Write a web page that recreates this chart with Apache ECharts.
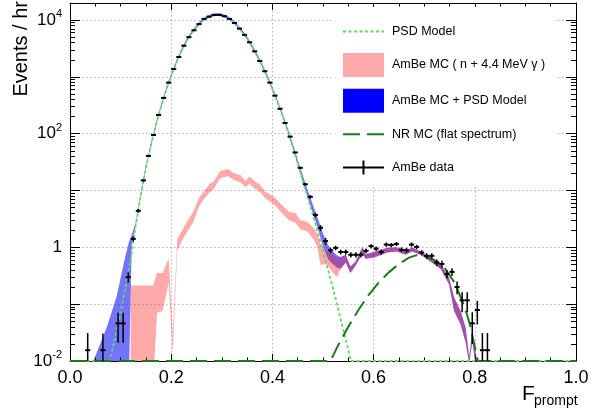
<!DOCTYPE html>
<html>
<head>
<meta charset="utf-8">
<script src="https://cdn.jsdelivr.net/npm/echarts@6/dist/echarts.min.js"></script>
<style>
html, body { margin: 0; padding: 0; background: #fff; }
#main { width: 591px; height: 413px; }
</style>
</head>
<body>
<div id="main"></div>
<script>
const FONT = '"Liberation Sans", Arial, Helvetica, sans-serif';

// AmBe data: bin centre, events / hr, error
const dataX = [0.035, 0.065, 0.095, 0.105, 0.115, 0.125, 0.135, 0.145, 0.155, 0.165,
  0.175, 0.185, 0.195, 0.205, 0.215, 0.225, 0.235, 0.245, 0.255, 0.265,
  0.275, 0.285, 0.295, 0.305, 0.315, 0.325, 0.335, 0.345, 0.355, 0.365,
  0.375, 0.385, 0.395, 0.405, 0.415, 0.425, 0.435, 0.445, 0.455, 0.465,
  0.475, 0.485, 0.495, 0.505, 0.515, 0.525, 0.535, 0.545, 0.555, 0.565,
  0.575, 0.585, 0.595, 0.605, 0.615, 0.625, 0.635, 0.645, 0.655, 0.665,
  0.675, 0.685, 0.695, 0.705, 0.715, 0.725, 0.735, 0.745, 0.755, 0.765,
  0.775, 0.785, 0.795, 0.805, 0.815, 0.825];
const dataY = [0.0155, 0.0155, 0.046, 0.046, 0.30, 1.41, 4.4, 15.1, 40.7, 95,
  214, 427, 794, 1380, 2240, 3550, 5010, 6610, 8510, 10500,
  11500, 12300, 12300, 11700, 10500, 8910, 7080, 5500, 4070, 2820,
  1910, 1260, 794, 468, 275, 155, 89, 46.8, 25.1, 12.9,
  7.76, 3.72, 2.21, 1.29, 0.89, 0.98, 0.83, 0.83, 0.74, 0.74,
  0.74, 0.87, 1.05, 0.95, 0.83, 1.12, 1.10, 1.15, 0.91, 0.89,
  1.12, 1.02, 0.81, 0.71, 0.71, 0.54, 0.51, 0.34, 0.37, 0.20,
  0.117, 0.117, 0.046, 0.079, 0.0155, 0.0155];
const dataErr = [0.0155, 0.015, 0.025, 0.025, 0.06, 0.14, 0.35, 0.7, 1.3, 2.2,
  3.5, 5, 7, 9, 12, 15, 18, 20, 23, 26,
  27, 28, 28, 27, 26, 24, 21, 19, 16, 13,
  11, 9, 7, 5.5, 4, 3, 2.2, 1.5, 1.1, 0.75,
  0.55, 0.36, 0.26, 0.18, 0.09, 0.09, 0.085, 0.085, 0.08, 0.08,
  0.08, 0.085, 0.09, 0.09, 0.085, 0.095, 0.095, 0.095, 0.09, 0.09,
  0.095, 0.09, 0.085, 0.08, 0.08, 0.07, 0.07, 0.055, 0.057, 0.05,
  0.045, 0.045, 0.026, 0.035, 0.0155, 0.0155];

// PSD model
const psdX = [0, 0.079, 0.09, 0.10, 0.11, 0.12, 0.13, 0.14, 0.15, 0.16,
  0.17, 0.18, 0.19, 0.20, 0.21, 0.22, 0.23, 0.24, 0.25, 0.26,
  0.27, 0.28, 0.29, 0.30, 0.31, 0.32, 0.33, 0.34, 0.35, 0.36,
  0.37, 0.38, 0.39, 0.40, 0.41, 0.42, 0.43, 0.44, 0.45, 0.46,
  0.47, 0.48, 0.49, 0.50, 0.51, 0.52, 0.53, 0.54, 0.55, 0.555, 1.0];
const psdY = [0.01, 0.01, 0.028, 0.071, 0.209, 0.63, 2.51, 8.3, 25.1, 63,
  145, 302, 589, 1050, 1780, 2820, 4270, 5890, 7590, 9550,
  10960, 12020, 12450, 12160, 11220, 9770, 7940, 6310, 4790, 3390,
  2340, 1550, 1000, 617, 363, 209, 115, 60, 30.2, 14.8,
  7.4, 3.7, 1.82, 0.85, 0.40, 0.186, 0.083, 0.036, 0.0158, 0.01, 0.01];

// NR MC (flat spectrum)
const nrX = [0, 0.515, 0.53, 0.55, 0.57, 0.59, 0.61, 0.63, 0.65, 0.67,
  0.685, 0.70, 0.72, 0.74, 0.76, 0.78, 0.79, 0.80, 0.806, 1.0];
const nrY = [0.01, 0.01, 0.019, 0.040, 0.079, 0.145, 0.24, 0.363, 0.51, 0.66,
  0.73, 0.71, 0.60, 0.44, 0.24, 0.089, 0.045, 0.018, 0.01, 0.01];

// AmBe MC band (upper / lower edge)
const mcX = [0.120, 0.164, 0.172, 0.183, 0.195, 0.203, 0.212, 0.225, 0.244, 0.254,
  0.264, 0.277, 0.284, 0.297, 0.313, 0.323, 0.337, 0.347, 0.355, 0.363,
  0.376, 0.386, 0.403, 0.416, 0.432, 0.446, 0.455, 0.469, 0.482, 0.489,
  0.495, 0.508, 0.520, 0.528, 0.535, 0.545, 0.554, 0.564, 0.578, 0.584,
  0.601, 0.627, 0.646, 0.663, 0.676, 0.693, 0.713, 0.733, 0.749, 0.759,
  0.772, 0.782, 0.789, 0.795, 0.802, 0.809];
const mcHi = [0.214, 0.214, 0.355, 0.355, 0.646, 0.028, 1.41, 2.29, 4.27, 7.24,
  9.55, 13.5, 14.5, 22.4, 24.0, 20.4, 18.6, 14.8, 17.8, 15.1,
  12.6, 9.55, 7.76, 5.89, 4.27, 3.98, 3.02, 2.82, 2.14, 1.78,
  1.12, 0.83, 0.78, 0.63, 0.68, 0.74, 0.46, 0.56, 1.02, 0.76,
  0.83, 0.98, 1.0, 0.85, 1.0, 0.85, 0.66, 0.50, 0.295, 0.132,
  0.076, 0.038, 0.0117, 0.032, 0.0126, 0.0079];
const mcLo = [0.0032, 0.0032, 0.071, 0.076, 0.24, 0.014, 0.89, 1.51, 2.82, 5.01,
  6.92, 9.55, 10.7, 16.6, 17.8, 15.5, 13.8, 11.5, 13.2, 11.2,
  9.33, 7.24, 5.75, 4.27, 3.02, 2.69, 2.09, 1.91, 1.35, 1.0,
  0.50, 0.50, 0.35, 0.30, 0.42, 0.54, 0.355, 0.47, 0.78, 0.63,
  0.66, 0.81, 0.85, 0.74, 0.85, 0.74, 0.56, 0.41, 0.224, 0.076,
  0.044, 0.021, 0.0089, 0.022, 0.0079, 0.005];

// AmBe MC + PSD model band (upper / lower edge)
const sumX = [0.040, 0.046, 0.056, 0.073, 0.092, 0.109, 0.116, 0.122, 0.13, 0.14,
  0.15, 0.16, 0.17, 0.18, 0.19, 0.20, 0.21, 0.22, 0.23, 0.24,
  0.25, 0.26, 0.27, 0.28, 0.29, 0.30, 0.31, 0.32, 0.33, 0.34,
  0.35, 0.36, 0.37, 0.38, 0.39, 0.40, 0.41, 0.42, 0.43, 0.44,
  0.45, 0.46, 0.47, 0.48, 0.49, 0.50, 0.51, 0.52, 0.528, 0.535,
  0.545, 0.554, 0.564, 0.578, 0.584, 0.601, 0.627, 0.646, 0.663, 0.676,
  0.693, 0.713, 0.733, 0.749, 0.759, 0.772, 0.782, 0.789, 0.795, 0.802, 0.809];
const sumHi = [0.0032, 0.010, 0.0166, 0.040, 0.135, 0.676, 1.20, 1.66, 2.75, 9.0,
  27, 68, 156, 325, 630, 1130, 1910, 3030, 4590, 6330,
  8160, 10270, 11780, 12920, 13380, 13070, 12060, 10500, 8540, 6780,
  5150, 3640, 2520, 1670, 1080, 665, 392, 228, 128, 68,
  35, 18.5, 10.0, 5.6, 3.2, 1.75, 1.10, 0.85, 0.72, 0.68,
  0.74, 0.46, 0.56, 1.02, 0.76, 0.83, 0.98, 1.0, 0.85, 1.0,
  0.85, 0.66, 0.50, 0.295, 0.132, 0.076, 0.038, 0.0117, 0.032, 0.0126, 0.0079];
const sumLo = [0.0032, 0.0032, 0.0032, 0.0032, 0.0032, 0.0032, 0.0032, 1.12, 2.40, 7.9,
  24, 60, 138, 288, 560, 1000, 1700, 2690, 4070, 5620,
  7240, 9110, 10460, 11470, 11880, 11600, 10710, 9320, 7580, 6020,
  4570, 3240, 2230, 1480, 950, 590, 346, 199, 110, 57,
  29, 14.5, 7.5, 4.0, 2.1, 1.05, 0.62, 0.50, 0.44, 0.42,
  0.54, 0.355, 0.47, 0.78, 0.63, 0.66, 0.81, 0.85, 0.74, 0.85,
  0.74, 0.56, 0.41, 0.224, 0.076, 0.044, 0.021, 0.0089, 0.022, 0.0079, 0.005];

const yMinorTicks = [];
for (let e = -2; e <= 4; e++) {
  for (let m = 2; m <= 9; m++) yMinorTicks.push(m * Math.pow(10, e));
}

const names = {
  psd: 'PSD Model',
  mc: 'AmBe MC ( n + 4.4 MeV \u03b3 )',
  sum: 'AmBe MC + PSD Model',
  nr: 'NR MC (flat spectrum)',
  data: 'AmBe data'
};

function zip(a, b, c) {
  return a.map((v, i) => (c ? [v, b[i], c[i]] : [v, b[i]]));
}

// one filled polygon per band, built from all points of the series
function bandRender(fill) {
  return function (params, api) {
    if (params.dataIndex !== 0) return null;
    const n = params.dataInsideLength;
    const top = [];
    const bot = [];
    for (let i = 0; i < n; i++) {
      const x = api.value(0, i);
      top.push(api.coord([x, api.value(1, i)]));
      bot.push(api.coord([x, api.value(2, i)]));
    }
    return {
      type: 'polygon',
      silent: true,
      shape: { points: top.concat(bot.reverse()) },
      style: { fill: fill }
    };
  };
}

function errRender(params, api) {
  const x = api.value(0);
  const y = api.value(1);
  const e = api.value(2);
  const l = api.coord([x - 0.005, y]);
  const r = api.coord([x + 0.005, y]);
  const t = api.coord([x, y + e]);
  const b = api.coord([x, Math.max(y - e, 0.001)]);
  return {
    type: 'group',
    children: [
      { type: 'line', shape: { x1: l[0], y1: l[1], x2: r[0], y2: r[1] },
        style: { stroke: '#000', lineWidth: 2 } },
      { type: 'line', shape: { x1: t[0], y1: t[1], x2: b[0], y2: b[1] },
        style: { stroke: '#000', lineWidth: 1.5 } }
    ]
  };
}

function yLabel(v) {
  const lg = Math.log10(v);
  const e = Math.round(lg);
  if (Math.abs(lg - e) > 1e-6 || e % 2 !== 0) return '';
  if (e === 0) return '1';
  return '10{sup|' + e + '}';
}

const yBase = { type: 'log', logBase: 10, min: 0.01, max: 20000 };
const tickLine = { color: '#000', width: 1 };
const noSymbol = { opacity: 0, borderWidth: 0 };

const chart = echarts.init(document.getElementById('main'));
chart.setOption({
  animation: false,
  backgroundColor: '#fff',
  textStyle: { fontFamily: FONT },
  grid: { left: 70, right: 15, top: 3, bottom: 52, outerBoundsMode: 'none' },
  xAxis: [
    {
      type: 'value', position: 'bottom', min: 0, max: 1, interval: 0.2,
      axisLine: { onZero: false, lineStyle: tickLine },
      axisTick: { inside: true, length: 7, lineStyle: tickLine },
      minorTick: { show: true, splitNumber: 4, length: 3.5, lineStyle: tickLine },
      axisLabel: {
        color: '#000', fontFamily: FONT, fontSize: 18, margin: 8,
        formatter: v => v.toFixed(1)
      },
      splitLine: { show: true, lineStyle: { color: '#b4b4b4', type: [1.5, 2.5] } }
    },
    {
      type: 'value', position: 'top', min: 0, max: 1, interval: 0.2,
      axisLine: { onZero: false, lineStyle: tickLine },
      axisTick: { inside: true, length: 7, lineStyle: tickLine },
      minorTick: { show: true, splitNumber: 4, length: 3.5, lineStyle: tickLine },
      axisLabel: { show: false },
      splitLine: { show: false }
    }
  ],
  yAxis: [
    Object.assign({}, yBase, {
      position: 'left',
      axisLine: { show: true, lineStyle: tickLine },
      axisTick: { inside: true, length: 10, lineStyle: tickLine },
      axisLabel: {
        color: '#000', fontFamily: FONT, fontSize: 17, lineHeight: 23, margin: 8,
        formatter: yLabel,
        rich: { sup: { fontFamily: FONT, fontSize: 11, lineHeight: 11, verticalAlign: 'top', color: '#000' } }
      },
      splitLine: { show: true, lineStyle: { color: '#b4b4b4', type: [1.5, 2.5] } }
    }),
    Object.assign({}, yBase, {
      position: 'left',
      axisLine: { show: false },
      axisTick: { inside: true, length: 5, customValues: yMinorTicks, lineStyle: tickLine },
      axisLabel: { show: false },
      splitLine: { show: false }
    }),
    Object.assign({}, yBase, {
      position: 'right',
      axisLine: { show: true, lineStyle: tickLine },
      axisTick: { inside: true, length: 10, lineStyle: tickLine },
      axisLabel: { show: false },
      splitLine: { show: false }
    }),
    Object.assign({}, yBase, {
      position: 'right',
      axisLine: { show: false },
      axisTick: { inside: true, length: 5, customValues: yMinorTicks, lineStyle: tickLine },
      axisLabel: { show: false },
      splitLine: { show: false }
    })
  ],
  legend: {
    orient: 'vertical', left: 332, top: 7,
    padding: [15, 10, 5, 10],
    backgroundColor: '#fff',
    itemWidth: 41, itemHeight: 24, itemGap: 11.8,
    selectedMode: false,
    textStyle: { fontFamily: FONT, fontSize: 12.5, color: '#000', padding: [0, 0, 0, 3] },
    data: [
      { name: names.psd, itemStyle: noSymbol },
      { name: names.mc, icon: 'rect' },
      { name: names.sum, icon: 'rect' },
      { name: names.nr, itemStyle: noSymbol },
      { name: names.data,
        icon: 'path://M0,0h0.01v0.01h-0.01z M0,11h41v2h-41z M19.5,5h2v14h-2z M40.99,23.99h0.01v0.01h-0.01z' }
    ]
  },
  graphic: [
    {
      type: 'text', x: 21, y: 1, rotation: Math.PI / 2,
      style: { text: 'Events / hr', font: '20px ' + FONT, fill: '#000',
        textAlign: 'right', textVerticalAlign: 'middle' }
    },
    {
      type: 'text', x: 522, y: 394,
      style: { text: 'F', font: '21px ' + FONT, fill: '#000',
        textAlign: 'left', textVerticalAlign: 'middle' }
    },
    {
      type: 'text', x: 534, y: 401,
      style: { text: 'prompt', font: '14px ' + FONT, fill: '#000',
        textAlign: 'left', textVerticalAlign: 'middle' }
    }
  ],
  series: [
    {
      name: names.sum, type: 'custom', clip: true, z: 1,
      itemStyle: { color: '#0000ff' },
      renderItem: bandRender('rgba(0,0,255,0.55)'),
      data: zip(sumX, sumHi, sumLo)
    },
    {
      name: names.mc, type: 'custom', clip: true, z: 2,
      itemStyle: { color: '#ffaaaa' },
      renderItem: bandRender('rgba(255,12,12,0.35)'),
      data: zip(mcX, mcHi, mcLo)
    },
    {
      name: names.psd, type: 'line', clip: true, z: 3,
      symbol: 'none', showSymbol: false,
      color: '#5fd85f',
      lineStyle: { color: '#5fd85f', width: 1.8, type: [3, 2.5] },
      data: zip(psdX, psdY)
    },
    {
      name: names.nr, type: 'line', clip: true, z: 3,
      symbol: 'none', showSymbol: false,
      color: '#1c7a1c',
      lineStyle: { color: '#1c7a1c', width: 2, type: [17, 7] },
      data: zip(nrX, nrY)
    },
    {
      name: names.data, type: 'custom', clip: true, z: 4,
      itemStyle: { color: '#000' },
      renderItem: errRender,
      data: zip(dataX, dataY, dataErr)
    }
  ]
});
</script>
</body>
</html>
